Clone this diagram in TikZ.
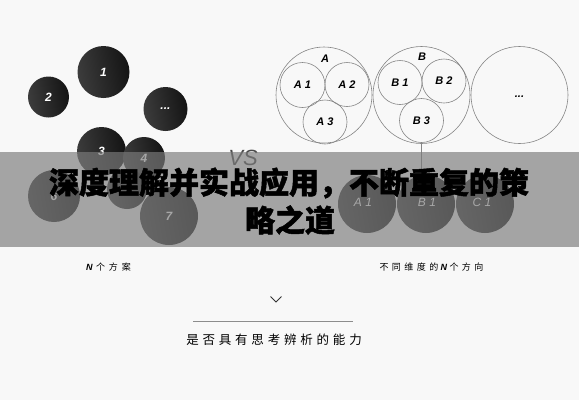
\documentclass[tikz,border=0pt]{standalone}
\usepackage{fontspec}
\setmainfont{Liberation Sans}
\newfontfamily\cjk{Noto Sans CJK SC}
\newfontfamily\cjkh[BoldFeatures={FakeBold=1.6}]{Noto Sans CJK SC}
\definecolor{bg}{HTML}{F8F8F8}
\definecolor{dkA}{HTML}{3C3C3C}
\definecolor{dkB}{HTML}{141414}
\definecolor{ringc}{HTML}{858585}
\definecolor{bandc}{HTML}{7B7B7B}
\definecolor{vsc}{HTML}{4A4A4A}
\begin{document}
\begin{tikzpicture}[x=1pt,y=-1pt,
  every node/.style={inner sep=0pt, outer sep=0pt},
  ball/.style={circle, minimum size=2*#1, shading=axis, left color=dkA, right color=dkB, shading angle=100, text=white,
    font=\bfseries\itshape\fontsize{12}{12}\selectfont},
  ring/.style={circle, draw=ringc, line width=0.6pt, minimum size=2*#1,
    font=\bfseries\itshape\fontsize{11}{11}\selectfont},
  lab/.style={font=\bfseries\itshape\fontsize{11}{11}\selectfont},
  small/.style={font=\cjk\fontsize{9}{9}\selectfont},
  title/.style={font=\cjkh\bfseries\fontsize{30}{30}\selectfont}]
\fill[bg] (0,0) rectangle (579,400);
\useasboundingbox (0,0) rectangle (579,400);
% left dark balls
\node[ball=26] (n1) at (103.5,72) {1};
\node[ball=20.5] (n2) at (48.5,97) {2};
\node[ball=22] (nd) at (165.5,109) {...};
\node[ball=24.5] (n3) at (101.5,151.5) {3};
\node[ball=21] (n4) at (144,158) {4};
\node[ball=20] (n5) at (127,189) {};
\node[ball=26] (n6) at (54,196) {6};
\node[ball=29] (n7) at (169,216) {7};
% VS
\node[text=vsc, font=\itshape\fontsize{22}{22}\selectfont] (vs) at (243,158) {VS};
% right open circles
\node[ring=48] (A) at (324,95) {};
\node[ring=22.5] (A1) at (302.5,85) {A 1};
\node[ring=22] (A2) at (347,84.5) {A 2};
\node[ring=22] (A3) at (325,122) {A 3};
\node[lab] (Al) at (325,59) {A};
\node[ring=48.5] (B) at (421.5,95) {};
\node[ring=22] (B1) at (400,82.5) {B 1};
\node[ring=22] (B2) at (444,81) {B 2};
\node[ring=22] (B3) at (421.5,120.5) {B 3};
\node[lab] (Bl) at (422,57) {B};
\node[ring=48.5] (C) at (519.5,95) {};
\node[lab] (Cd) at (519.5,97) {...};
% lower dark balls
\node[ball=29] (a1) at (367,204) {};
\node[ball=29] (b1) at (426,204) {};
\node[ball=29] (c1) at (485,204) {};
\node[text=white, font=\itshape\fontsize{12}{12}\selectfont] (a1l) at (363,202) {A 1};
\node[text=white, font=\itshape\fontsize{12}{12}\selectfont] (b1l) at (427,202) {B 1};
\node[text=white, font=\itshape\fontsize{12}{12}\selectfont] (c1l) at (482,202) {C 1};
\draw[ringc, line width=0.6pt] (B.south) -- (B.south |- b1.north);
% band overlay
\fill[bandc, opacity=0.665] (0,152) rectangle (579,247);
% title
\node[title] (t1) at (289,183) {深度理解并实战应用，不断重复的策};
\node[title] (t2) at (290,220) {略之道};
% bottom texts
\node[small] (s1) at (108.5,267) {{\fontspec{Liberation Sans}\bfseries\itshape N}\hspace{3.5pt}个\hspace{4pt}方\hspace{4pt}案};
\node[small] (s2) at (431.5,267) {不\hspace{3.5pt}同\hspace{3.5pt}维\hspace{3.5pt}度\hspace{3.5pt}的\hspace{2pt}{\fontspec{Liberation Sans}\bfseries\itshape N}\hspace{2.5pt}个\hspace{3.5pt}方\hspace{3.5pt}向};
\draw[black!80, line width=0.8pt] (270.5,296.5) -- (276,302) -- (281.5,296.5);
\draw[black!45, line width=0.8pt] (193,321) -- (353,321);
\node[font=\cjk\fontsize{12.5}{12.5}\selectfont] (s3) at (274,340) {是\hspace{3.8pt}否\hspace{3.8pt}具\hspace{3.8pt}有\hspace{3.8pt}思\hspace{3.8pt}考\hspace{3.8pt}辨\hspace{3.8pt}析\hspace{3.8pt}的\hspace{3.8pt}能\hspace{3.8pt}力};
\end{tikzpicture}
\end{document}
